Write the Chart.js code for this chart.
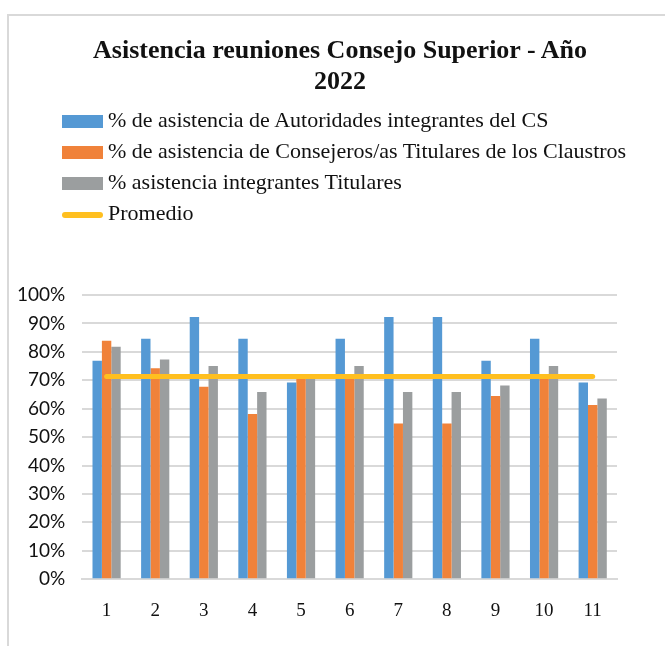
<!DOCTYPE html>
<html>
<head>
<meta charset="utf-8">
<script src="https://cdn.jsdelivr.net/npm/chart.js@4"></script>
<style>
  body { margin: 0; background: #fff; }
  #wrap { position: relative; width: 665px; height: 646px; overflow: hidden; }
  #frame { position: absolute; left: 7px; top: 14px; width: 720px; height: 700px; border: 2px solid #d9d9d9; }
  #title { position: absolute; left: 0; width: 680px; top: 34px; text-align: center;
    font: bold 26px "Liberation Serif", serif; line-height: 31px; color: #111; }
  #legend { position: absolute; left: 62px; top: 104px; font: 22px "Liberation Serif", serif; color: #111; }
  #legend div { height: 31px; line-height: 31px; white-space: nowrap; }
  #legend span { display: inline-block; width: 41px; margin-right: 5px; vertical-align: middle; }
  #myChart { position: absolute; left: 0; top: 0; }
</style>
</head>
<body>
<div id="wrap">
  <div id="frame"></div>
  <canvas id="myChart" width="665" height="646"></canvas>
  <div id="title">Asistencia reuniones Consejo Superior - Año<br>2022</div>
  <div id="legend"></div>
</div>
<script>
var labels = ["1", "2", "3", "4", "5", "6", "7", "8", "9", "10", "11"];
var autoridades = [76.9, 84.6, 92.3, 84.6, 69.2, 84.6, 92.3, 92.3, 76.9, 84.6, 69.2];
var consejeros = [83.9, 74.2, 67.7, 58.1, 71.0, 71.0, 54.8, 54.8, 64.5, 71.0, 61.3];
var titulares = [81.8, 77.3, 75.0, 65.9, 70.5, 75.0, 65.9, 65.9, 68.2, 75.0, 63.6];
var promedio = [71.3, 71.3, 71.3, 71.3, 71.3, 71.3, 71.3, 71.3, 71.3, 71.3, 71.3];
var yTicks = [0, 10, 20, 30, 40, 50, 60, 70, 80, 90, 100];

var seriesNames = [
    "% de asistencia de Autoridades integrantes del CS",
    "% de asistencia de Consejeros/as Titulares de los Claustros",
    "% asistencia integrantes Titulares",
    "Promedio"
];
var colors = ["#5599d4", "#f0823a", "#9b9e9f", "#ffbf1f"];

var ctx = document.getElementById('myChart').getContext('2d');
var myChart = new Chart(ctx, {
    type: 'bar',
    data: {
        labels: labels,
        datasets: [{
            label: seriesNames[0],
            data: autoridades,
            backgroundColor: colors[0],
            order: 1
        }, {
            label: seriesNames[1],
            data: consejeros,
            backgroundColor: colors[1],
            order: 1
        }, {
            label: seriesNames[2],
            data: titulares,
            backgroundColor: colors[2],
            order: 1
        }, {
            type: 'line',
            label: seriesNames[3],
            data: promedio,
            borderColor: colors[3],
            backgroundColor: colors[3],
            borderWidth: 5,
            borderCapStyle: 'round',
            pointRadius: 0,
            order: 0
        }]
    },
    options: {
        responsive: false,
        animation: false,
        categoryPercentage: 0.58,
        barPercentage: 1,
        layout: { padding: { top: 295, left: 0, right: 48, bottom: 12 } },
        plugins: { legend: { display: false }, tooltip: { enabled: false } },
        scales: {
            x: {
                grid: { display: false },
                border: { color: '#d9d9d9', width: 2 },
                ticks: { color: '#111', padding: 12, font: { family: 'Liberation Serif', size: 19 } }
            },
            y: {
                min: 0,
                max: 100,
                afterBuildTicks: function(axis) {
                    axis.ticks = yTicks.map(v => ({ value: v }));
                },
                grid: { color: '#d9d9d9', lineWidth: 2, drawTicks: false },
                border: { display: false },
                ticks: {
                    color: '#111',
                    padding: 17,
                    font: { family: 'Lato', size: 19 },
                    callback: function(v) { return v + '%'; }
                }
            }
        }
    }
});

// legend built from the chart datasets
var legendDiv = document.getElementById('legend');
myChart.data.datasets.forEach(function(ds) {
    var row = document.createElement('div');
    var sw = document.createElement('span');
    if (ds.type === 'line') {
        sw.style.height = '6px';
        sw.style.borderRadius = '3px';
    } else {
        sw.style.height = '13px';
    }
    sw.style.background = ds.type === 'line' ? ds.borderColor : ds.backgroundColor;
    row.appendChild(sw);
    row.appendChild(document.createTextNode(ds.label));
    legendDiv.appendChild(row);
});
</script>
</body>
</html>
